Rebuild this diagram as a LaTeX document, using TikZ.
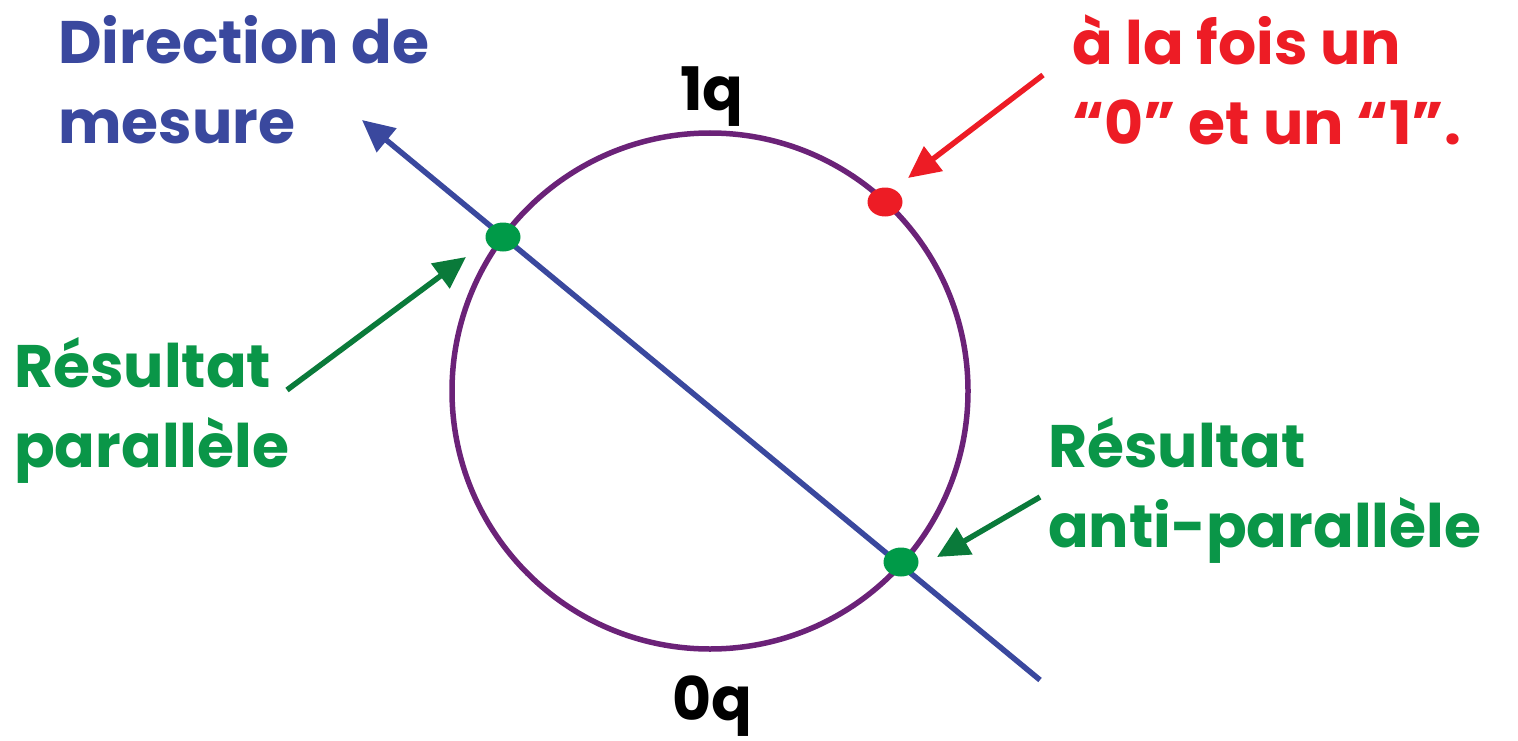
\documentclass[tikz,border=0pt]{standalone}
\usepackage{fontspec}
\setmainfont{Poppins}
\usetikzlibrary{arrows.meta,shapes.geometric}
\definecolor{dirblue}{RGB}{58,72,158}
\definecolor{circpurple}{RGB}{107,34,120}
\definecolor{redc}{RGB}{237,28,37}
\definecolor{dotgreen}{RGB}{0,154,72}
\definecolor{arrgreen}{RGB}{10,122,58}
\definecolor{txtgreen}{RGB}{10,150,72}
\tikzset{
  lbl/.style={font=\fontsize{60}{80}\selectfont\bfseries, inner sep=0pt, align=left},
  dot/.style={ellipse, minimum width=35pt, minimum height=29pt, inner sep=0pt, fill=#1},
  pointer/.style={line width=5.5pt, -{Triangle[length=32pt,width=30pt]}, draw=#1},
}
\begin{document}
\begin{tikzpicture}[x=1pt,y=-1pt]
\useasboundingbox (0,0) rectangle (1518,741);
% circle
\draw[circpurple, line width=5.5pt] (710,391) circle[radius=258];
% measurement direction
\coordinate (tip) at (362,120);
\coordinate (tail) at (1040,680);
\draw[dirblue, line width=5.5pt, -{Triangle[length=32pt,width=30pt]}] (tail) -- (tip);
% dots
\node[dot=dotgreen] (par) at (503,237) {};
\node[dot=dotgreen] (anti) at (901,562) {};
\node[dot=redc] (sup) at (885,202) {};
% labels
\node[lbl, text=dirblue, anchor=west] (dir) at (58,80) {Direction de\\mesure};
\node[lbl, text=black] (one) at (712,97) {1q};
\node[lbl, text=black] (zero) at (712,706) {0q};
\node[lbl, text=redc, anchor=west] (both) at (1072,80) {à la fois un\\“0” et un “1”.};
\node[lbl, text=txtgreen, anchor=west] (rpar) at (14,410) {Résultat\\parallèle};
\node[lbl, text=txtgreen, anchor=west] (ranti) at (1048,490) {Résultat\\anti-parallèle};
% pointers
\coordinate (pA) at (287,390);
\coordinate (pB) at (466,257);
\draw[pointer=arrgreen] (pA) -- (pB);
\coordinate (aA) at (1040,497);
\coordinate (aB) at (937,557);
\draw[pointer=arrgreen] (aA) -- (aB);
\coordinate (sA) at (1043,75);
\coordinate (sB) at (908,178);
\draw[pointer=redc] (sA) -- (sB);
\end{tikzpicture}
\end{document}
